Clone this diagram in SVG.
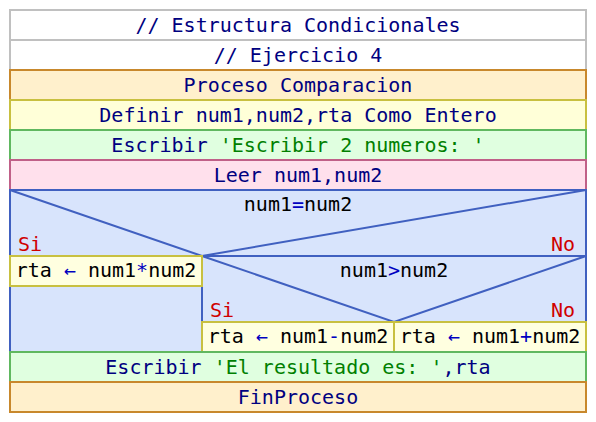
<svg xmlns="http://www.w3.org/2000/svg" width="596" height="422" viewBox="0 0 596 422">
<style>
text{font-family:"DejaVu Sans Mono","Liberation Mono",monospace;font-size:20px;fill:#000080}
.c{text-anchor:middle}
.k{fill:#000080}
.v{fill:#000000}
.op{fill:#0000c0}
.s{fill:#008000}
.r{fill:#d00000}
.com{fill:#fff;stroke:#c0c0c0;stroke-width:2}
.proc{fill:#fff0cc;stroke:#c8882c;stroke-width:2}
.def{fill:#ffffd8;stroke:#c8c040;stroke-width:2}
.esc{fill:#e0ffe0;stroke:#60b860;stroke-width:2}
.leer{fill:#ffe0ec;stroke:#c06088;stroke-width:2}
.dec{fill:#d8e4fc;stroke:#4060c0;stroke-width:2}
.asg{fill:#ffffe0;stroke:#c8c040;stroke-width:2}
.ln{stroke:#4060c0;stroke-width:2;fill:none}
</style>
<rect width="596" height="422" fill="#fff"/>
<g id="comment1"><rect class="com" x="10" y="10" width="576" height="30"/><text class="c" x="298" y="32">// Estructura Condicionales</text></g>
<g id="comment2"><rect class="com" x="10" y="40" width="576" height="30"/><text class="c" x="298" y="62">// Ejercicio 4</text></g>
<g id="proceso"><rect class="proc" x="10" y="70" width="576" height="30"/><text class="c" x="298" y="92">Proceso Comparacion</text></g>
<g id="definir"><rect class="def" x="10" y="100" width="576" height="30"/><text class="c" x="298" y="122">Definir num1,num2,rta Como Entero</text></g>
<g id="escribir1"><rect class="esc" x="10" y="130" width="576" height="30"/><text class="c" x="298" y="152">Escribir <tspan class="s">'Escribir 2 numeros: '</tspan></text></g>
<g id="leer"><rect class="leer" x="10" y="160" width="576" height="30"/><text class="c" x="298" y="182">Leer num1,num2</text></g>
<g id="decision1"><rect class="dec" x="10" y="190" width="576" height="162"/>
<text class="c v" x="298" y="211">num1<tspan class="op">=</tspan>num2</text>
<text class="r" x="18" y="251">Si</text>
<text class="r" x="575" y="251" text-anchor="end">No</text></g>
<g id="decision2">
<text class="c v" x="394" y="277">num1<tspan class="op">&gt;</tspan>num2</text>
<text class="r" x="210" y="317">Si</text>
<text class="r" x="575" y="317" text-anchor="end">No</text></g>
<g id="connectors">
<path class="ln" d="M10 190 L202 256 L586 190 M202 256 H586 M202 256 V352 M202 256 L394 322 L586 256 M202 322 H586"/>
</g>
<g id="asig1"><rect class="asg" x="10" y="256" width="192" height="30"/><text class="c v" x="106" y="277">rta <tspan class="op">←</tspan> num1<tspan class="op">*</tspan>num2</text></g>
<g id="asig2"><rect class="asg" x="202" y="322" width="192" height="30"/><text class="c v" x="298" y="343">rta <tspan class="op">←</tspan> num1<tspan class="op">-</tspan>num2</text></g>
<g id="asig3"><rect class="asg" x="394" y="322" width="192" height="30"/><text class="c v" x="490" y="343">rta <tspan class="op">←</tspan> num1<tspan class="op">+</tspan>num2</text></g>
<g id="escribir2"><rect class="esc" x="10" y="352" width="576" height="30"/><text class="c" x="298" y="374">Escribir <tspan class="s">'El resultado es: '</tspan>,rta</text></g>
<g id="finproceso"><rect class="proc" x="10" y="382" width="576" height="30"/><text class="c" x="298" y="404">FinProceso</text></g>
</svg>
